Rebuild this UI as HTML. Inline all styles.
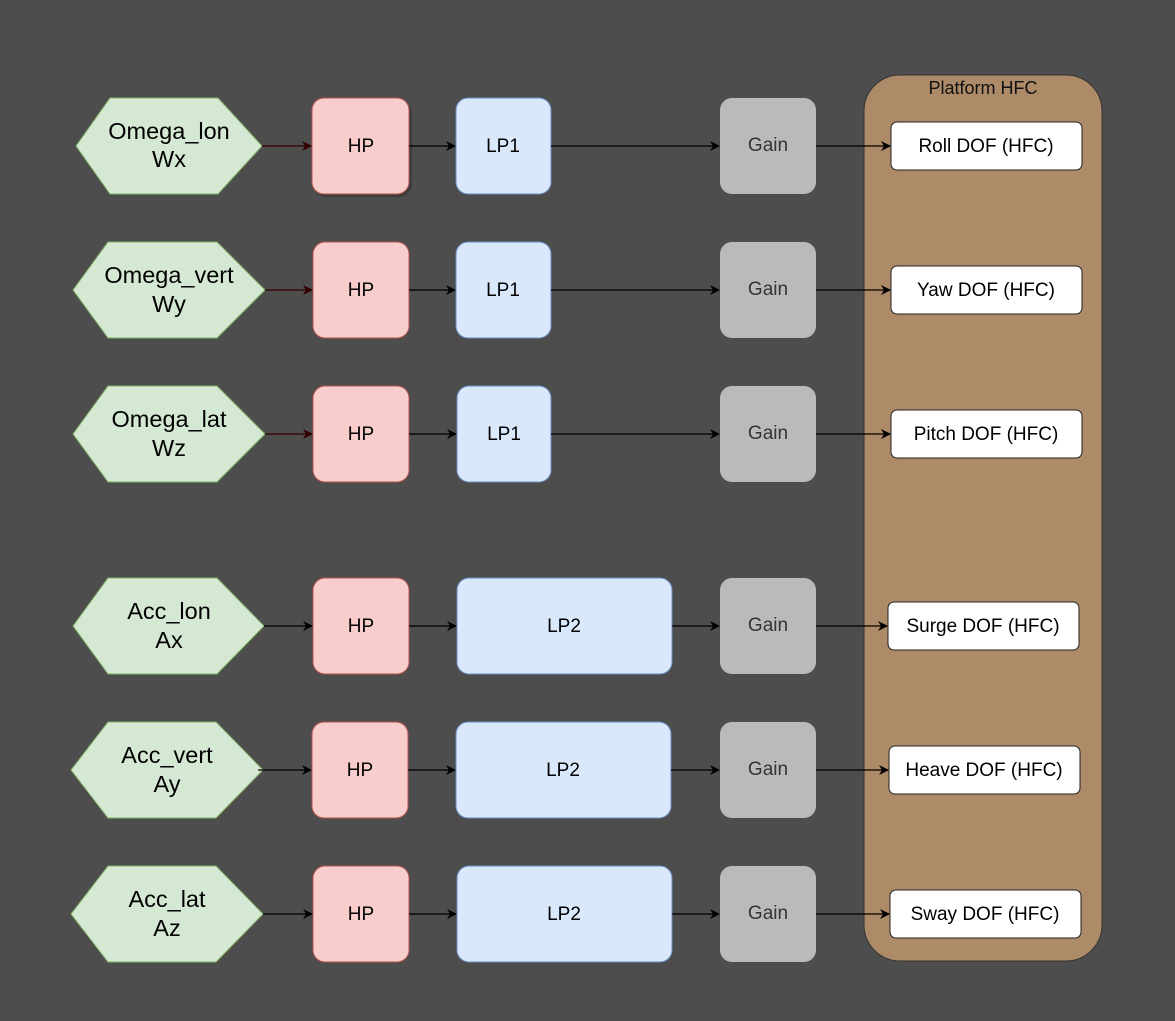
<!DOCTYPE html>
<html><head><meta charset="utf-8"><style>
html,body{margin:0;padding:0;background:#4d4d4d;}
svg{display:block;font-family:"Liberation Sans",Arial,sans-serif;}
</style></head><body>
<svg width="1175" height="1021" viewBox="0 0 1175 1021" xmlns="http://www.w3.org/2000/svg">
<defs>
<marker id="ab" markerWidth="10" markerHeight="10" refX="9" refY="5" orient="auto" markerUnits="userSpaceOnUse"><path d="M0,0 L10,5 L0,10 L3,5 Z" fill="#000"/></marker>
<marker id="ar" markerWidth="10" markerHeight="10" refX="9" refY="5" orient="auto" markerUnits="userSpaceOnUse"><path d="M0,0 L10,5 L0,10 L3,5 Z" fill="#330000"/></marker>
</defs>
<rect width="1175" height="1021" fill="#4d4d4d"/>
<rect x="864" y="75" width="238" height="886" rx="36" fill="#ad8a68" stroke="#333" stroke-width="1"/>
<text x="983" y="94" font-size="18" text-anchor="middle" fill="#111">Platform HFC</text>
<!-- Row 1 -->
<polygon points="76,146 110,98 218,98 262,146 218,194 110,194" fill="#d5e8d4" stroke="#82b366"/>
<rect x="315" y="101" width="97" height="96" rx="12" fill="#333" opacity="0.6"/>
<rect x="312" y="98" width="97" height="96" rx="12" fill="#f8cecc" stroke="#b85450"/>
<rect x="456" y="98" width="95" height="96" rx="12" fill="#dae8fc" stroke="#6c8ebf"/>
<rect x="720" y="98" width="96" height="96" rx="12" fill="#bababa"/>
<rect x="891" y="122" width="191" height="48" rx="6" fill="#fff" stroke="#222"/>
<!-- Row 2 -->
<polygon points="73,290 108,242 217,242 265,290 217,338 108,338" fill="#d5e8d4" stroke="#82b366"/>
<rect x="313" y="242" width="96" height="96" rx="12" fill="#f8cecc" stroke="#b85450"/>
<rect x="456" y="242" width="95" height="96" rx="12" fill="#dae8fc" stroke="#6c8ebf"/>
<rect x="720" y="242" width="96" height="96" rx="12" fill="#bababa"/>
<rect x="891" y="266" width="191" height="48" rx="6" fill="#fff" stroke="#222"/>
<!-- Row 3 -->
<polygon points="73,434 108,386 217,386 265,434 217,482 108,482" fill="#d5e8d4" stroke="#82b366"/>
<rect x="313" y="386" width="96" height="96" rx="12" fill="#f8cecc" stroke="#b85450"/>
<rect x="457" y="386" width="94" height="96" rx="12" fill="#dae8fc" stroke="#6c8ebf"/>
<rect x="720" y="386" width="96" height="96" rx="12" fill="#bababa"/>
<rect x="891" y="410" width="191" height="48" rx="6" fill="#fff" stroke="#222"/>
<!-- Row 4 -->
<polygon points="73,626 108,578 217,578 264,626 217,674 108,674" fill="#d5e8d4" stroke="#82b366"/>
<rect x="313" y="578" width="96" height="96" rx="12" fill="#f8cecc" stroke="#b85450"/>
<rect x="457" y="578" width="215" height="96" rx="12" fill="#dae8fc" stroke="#6c8ebf"/>
<rect x="720" y="578" width="96" height="96" rx="12" fill="#bababa"/>
<rect x="888" y="602" width="191" height="48" rx="6" fill="#fff" stroke="#222"/>
<!-- Row 5 -->
<polygon points="71,770 108,722 216,722 263,770 216,818 108,818" fill="#d5e8d4" stroke="#82b366"/>
<rect x="312" y="722" width="96" height="96" rx="12" fill="#f8cecc" stroke="#b85450"/>
<rect x="456" y="722" width="215" height="96" rx="12" fill="#dae8fc" stroke="#6c8ebf"/>
<rect x="720" y="722" width="96" height="96" rx="12" fill="#bababa"/>
<rect x="889" y="746" width="191" height="48" rx="6" fill="#fff" stroke="#222"/>
<!-- Row 6 -->
<polygon points="71,914 108,866 216,866 263,914 216,962 108,962" fill="#d5e8d4" stroke="#82b366"/>
<rect x="313" y="866" width="96" height="96" rx="12" fill="#f8cecc" stroke="#b85450"/>
<rect x="457" y="866" width="215" height="96" rx="12" fill="#dae8fc" stroke="#6c8ebf"/>
<rect x="720" y="866" width="96" height="96" rx="12" fill="#bababa"/>
<rect x="890" y="890" width="191" height="48" rx="6" fill="#fff" stroke="#222"/>

<!-- connectors -->
<g stroke-width="1.2" fill="none">
<line x1="262" y1="146" x2="311" y2="146" stroke="#330000" marker-end="url(#ar)"/>
<line x1="265" y1="290" x2="312" y2="290" stroke="#330000" marker-end="url(#ar)"/>
<line x1="265" y1="434" x2="312" y2="434" stroke="#330000" marker-end="url(#ar)"/>
<line x1="264" y1="626" x2="312" y2="626" stroke="#000" marker-end="url(#ab)"/>
<line x1="258" y1="770" x2="311" y2="770" stroke="#000" marker-end="url(#ab)"/>
<line x1="263" y1="914" x2="312" y2="914" stroke="#000" marker-end="url(#ab)"/>
<g stroke="#000">
<line x1="409" y1="146" x2="455" y2="146" marker-end="url(#ab)"/>
<line x1="409" y1="290" x2="455" y2="290" marker-end="url(#ab)"/>
<line x1="409" y1="434" x2="456" y2="434" marker-end="url(#ab)"/>
<line x1="409" y1="626" x2="456" y2="626" marker-end="url(#ab)"/>
<line x1="408" y1="770" x2="455" y2="770" marker-end="url(#ab)"/>
<line x1="409" y1="914" x2="456" y2="914" marker-end="url(#ab)"/>
<line x1="551" y1="146" x2="719" y2="146" marker-end="url(#ab)"/>
<line x1="551" y1="290" x2="719" y2="290" marker-end="url(#ab)"/>
<line x1="551" y1="434" x2="719" y2="434" marker-end="url(#ab)"/>
<line x1="672" y1="626" x2="719" y2="626" marker-end="url(#ab)"/>
<line x1="671" y1="770" x2="719" y2="770" marker-end="url(#ab)"/>
<line x1="672" y1="914" x2="719" y2="914" marker-end="url(#ab)"/>
<line x1="816" y1="146" x2="890" y2="146" marker-end="url(#ab)"/>
<line x1="816" y1="290" x2="890" y2="290" marker-end="url(#ab)"/>
<line x1="816" y1="434" x2="890" y2="434" marker-end="url(#ab)"/>
<line x1="816" y1="626" x2="887" y2="626" marker-end="url(#ab)"/>
<line x1="816" y1="770" x2="888" y2="770" marker-end="url(#ab)"/>
<line x1="816" y1="914" x2="889" y2="914" marker-end="url(#ab)"/>
</g>
</g>

<!-- labels -->
<g font-size="23.5" text-anchor="middle" fill="#000">
<text x="169" y="139">Omega_lon</text><text x="169" y="167">Wx</text>
<text x="169" y="283">Omega_vert</text><text x="169" y="312">Wy</text>
<text x="169" y="427">Omega_lat</text><text x="169" y="456">Wz</text>
<text x="169" y="619">Acc_lon</text><text x="169" y="648">Ax</text>
<text x="167" y="763">Acc_vert</text><text x="167" y="792">Ay</text>
<text x="167" y="907">Acc_lat</text><text x="167" y="936">Az</text>
</g>
<g font-size="19" text-anchor="middle" fill="#000">
<text x="361" y="152">HP</text><text x="361" y="296">HP</text><text x="361" y="440">HP</text>
<text x="361" y="632">HP</text><text x="360" y="776">HP</text><text x="361" y="920">HP</text>
<text x="503" y="152">LP1</text><text x="503" y="296">LP1</text><text x="504" y="440">LP1</text>
<text x="564" y="632">LP2</text><text x="563" y="776">LP2</text><text x="564" y="920">LP2</text>
<text x="986" y="152">Roll DOF (HFC)</text>
<text x="986" y="296">Yaw DOF (HFC)</text>
<text x="986" y="440">Pitch DOF (HFC)</text>
<text x="983" y="632">Surge DOF (HFC)</text>
<text x="984" y="776">Heave DOF (HFC)</text>
<text x="985" y="920">Sway DOF (HFC)</text>
</g>
<g font-size="19" text-anchor="middle" fill="#333">
<text x="768" y="151">Gain</text><text x="768" y="295">Gain</text><text x="768" y="439">Gain</text>
<text x="768" y="631">Gain</text><text x="768" y="775">Gain</text><text x="768" y="919">Gain</text>
</g>
</svg>
</body></html>
